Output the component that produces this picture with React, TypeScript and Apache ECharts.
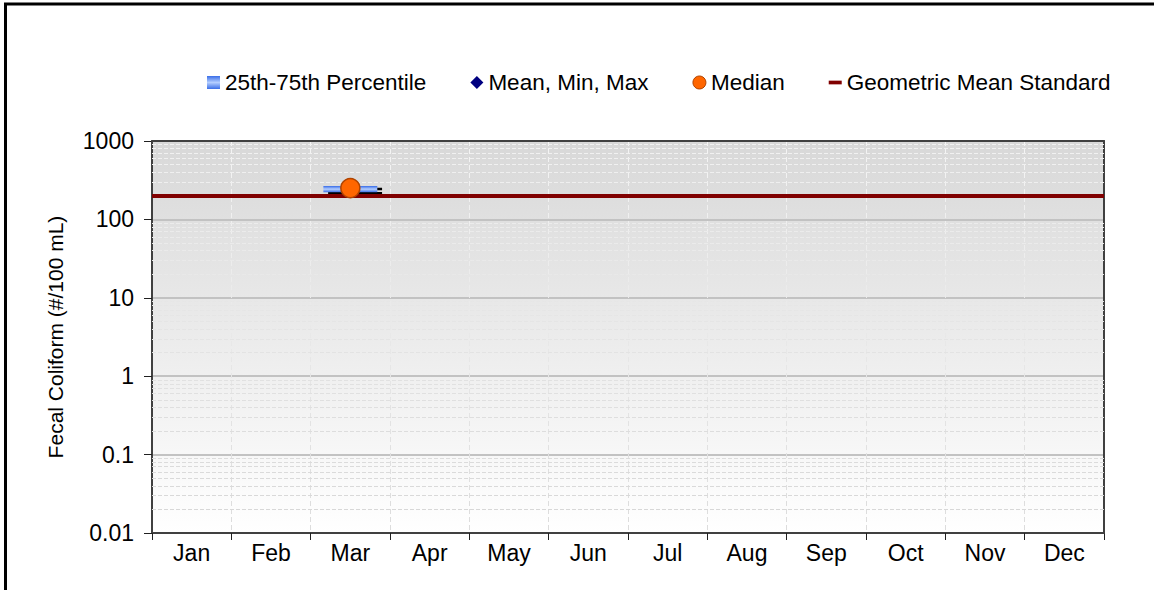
import React, { useEffect, useRef } from "react";
import * as echarts from "echarts";

const MONTHS = ["Jan", "Feb", "Mar", "Apr", "May", "Jun", "Jul", "Aug", "Sep", "Oct", "Nov", "Dec"];
const Q25 = [null, null, 222, null, null, null, null, null, null, null, null, null];
const Q75 = [null, null, 266, null, null, null, null, null, null, null, null, null];
const MEDIAN = [null, null, 251, null, null, null, null, null, null, null, null, null];
const MEAN = [null, null, 238, null, null, null, null, null, null, null, null, null];
const MIN = [null, null, 215, null, null, null, null, null, null, null, null, null];
const MAX = [null, null, 245, null, null, null, null, null, null, null, null, null];
const GEO_STANDARD = 200;
const Y_MIN = 0.01;
const Y_MAX = 1000;
const MINOR_STEPS = [2, 3, 4, 5, 6, 7, 8, 9];

const FONT = "'Liberation Sans', Arial, sans-serif";
const AXIS_FS = 23;
const LEGEND_FS = 22.5;
const TITLE_FS = 21;

export default function App() {
  const ref = useRef<HTMLDivElement>(null);
  useEffect(() => {
    if (!ref.current) return;
    const chart = echarts.init(ref.current, null, { renderer: "svg" });

    const minorVals: number[] = [];
    for (let d = Y_MIN; d < Y_MAX * 0.99; d *= 10) {
      MINOR_STEPS.forEach((m) => minorVals.push(parseFloat((d * m).toPrecision(3))));
    }

    const gridTop = 141;
    const gridBottom = 533;
    const lineGrad = (top: string, bottom: string) => ({
      type: "linear", x: 0, y: gridTop, x2: 0, y2: gridBottom, global: true,
      colorStops: [{ offset: 0, color: top }, { offset: 1, color: bottom }],
    });

    const boxGrad = {
      type: "linear", x: 0, y: 0, x2: 0, y2: 1,
      colorStops: [
        { offset: 0, color: "#3a6ee8" },
        { offset: 0.5, color: "#b4ceff" },
        { offset: 1, color: "#3a6ee8" },
      ],
    };

    const boxData: any[] = [];
    const whiskerData: any[] = [];
    const medianData: any[] = [];
    MONTHS.forEach((_, i) => {
      if (Q25[i] != null && Q75[i] != null) boxData.push([i, Q25[i], Q75[i]]);
      if (MEAN[i] != null) whiskerData.push([i, MEAN[i], MIN[i], MAX[i]]);
      if (MEDIAN[i] != null) medianData.push([i, MEDIAN[i]]);
    });

    const frameLine = { show: true, lineStyle: { color: "#404040", width: 2 } };

    const option: any = {
      animation: false,
      textStyle: { fontFamily: FONT },
      graphic: [
        {
          type: "rect",
          shape: { x: 5.5, y: 4, width: 1300, height: 700 },
          style: { fill: "none", stroke: "#000", lineWidth: 3 },
          silent: true,
        },
      ],
      legend: {
        left: 202,
        top: 66,
        itemWidth: 13,
        itemHeight: 13,
        itemGap: 44,
        textStyle: { fontFamily: FONT, fontSize: LEGEND_FS, color: "#000" },
        data: [
          { name: "25th-75th Percentile", icon: "rect", itemStyle: { color: boxGrad } },
          { name: "Mean, Min, Max", icon: "diamond", itemStyle: { color: "#000080" } },
          { name: "Median", icon: "circle", itemStyle: { color: "#ff6600", borderColor: "#b04400", borderWidth: 1, opacity: 1 } },
          { name: "Geometric Mean Standard", icon: "path://M0,0 L14,0 L14,4 L0,4 Z", itemStyle: { color: "#800000" } },
        ],
      },
      grid: {
        left: 152,
        right: 50,
        top: gridTop,
        bottom: 590 - gridBottom,
        show: true,
        borderWidth: 0,
        backgroundColor: {
          type: "linear", x: 0, y: 0, x2: 0, y2: 1,
          colorStops: [{ offset: 0, color: "#d8d8d8" }, { offset: 1, color: "#ffffff" }],
        },
      },
      xAxis: [
        {
          type: "category",
          data: MONTHS,
          boundaryGap: true,
          axisLine: { lineStyle: { color: "#404040", width: 2 } },
          axisTick: { show: true, length: 7, lineStyle: { color: "#202020", width: 1 } },
          axisLabel: { fontSize: AXIS_FS, color: "#000", margin: 8, fontFamily: FONT },
          splitLine: {
            show: true,
            lineStyle: { color: lineGrad("#f4f4f4", "#dcdcdc"), width: 1, type: [5, 3] },
          },
        },
        {
          type: "category",
          data: MONTHS,
          position: "top",
          z: 2,
          axisLine: frameLine,
          axisTick: { show: false },
          axisLabel: { show: false },
          splitLine: { show: false },
        },
      ],
      yAxis: [
        {
          type: "log",
          logBase: 10,
          min: Y_MIN,
          max: Y_MAX,
          name: "Fecal Coliform (#/100 mL)",
          nameLocation: "middle",
          nameGap: 86,
          nameTextStyle: { fontSize: TITLE_FS, color: "#000", fontFamily: FONT },
          axisLine: { show: true, lineStyle: { color: "#404040", width: 2 } },
          axisTick: { show: true, length: 8, lineStyle: { color: "#202020", width: 1 } },
          axisLabel: {
            fontSize: AXIS_FS, color: "#000", margin: 18, fontFamily: FONT,
            formatter: (v: number) => String(parseFloat(v.toPrecision(6))),
          },
          splitLine: { show: true, lineStyle: { color: "#c2c2c2", width: 2 } },
        },
        {
          type: "log",
          logBase: 10,
          min: Y_MIN,
          max: Y_MAX,
          position: "right",
          z: 2,
          axisLine: frameLine,
          axisTick: { show: false },
          axisLabel: { show: false },
          splitLine: { show: false },
        },
      ],
      series: [
        {
          name: "_minor",
          type: "line",
          data: [],
          z: 1,
          silent: true,
          markLine: {
            silent: true,
            symbol: ["none", "none"],
            label: { show: false },
            lineStyle: { color: lineGrad("#f2f2f2", "#d6d6d6"), width: 1, type: [4, 2] },
            data: minorVals.map((v) => ({ yAxis: v })),
          },
        },
        {
          name: "Geometric Mean Standard",
          type: "line",
          data: [],
          z: 3,
          itemStyle: { color: "#800000" },
          lineStyle: { color: "#800000", width: 4 },
          markLine: {
            silent: true,
            symbol: ["none", "none"],
            label: { show: false },
            lineStyle: { color: "#800000", width: 4, type: "solid" },
            data: [{ yAxis: GEO_STANDARD }],
          },
        },
        {
          name: "Mean, Min, Max",
          type: "custom",
          z: 4,
          itemStyle: { color: "#000080" },
          data: whiskerData,
          encode: { x: 0, y: [1, 2, 3] },
          renderItem: (params: any, api: any) => {
            const idx = api.value(0);
            const mean = api.value(1);
            const mn = api.value(2);
            const mx = api.value(3);
            const band = params.coordSys.width / MONTHS.length;
            const w = band * 0.68;
            const pMean = api.coord([idx, mean]);
            const pMin = api.coord([idx, mn]);
            const pMax = api.coord([idx, mx]);
            const cx = pMean[0] + band * 0.06;
            const s = 7;
            return {
              type: "group",
              children: [
                { type: "line", shape: { x1: cx, y1: pMin[1], x2: cx, y2: pMax[1] }, style: { stroke: "#000", lineWidth: 2 } },
                { type: "line", shape: { x1: cx - w / 2, y1: pMin[1], x2: cx + w / 2, y2: pMin[1] }, style: { stroke: "#000", lineWidth: 2.5 } },
                { type: "line", shape: { x1: cx - w / 2, y1: pMax[1], x2: cx + w / 2, y2: pMax[1] }, style: { stroke: "#000", lineWidth: 2.5 } },
                {
                  type: "polygon",
                  shape: { points: [[pMean[0], pMean[1] - s], [pMean[0] + s, pMean[1]], [pMean[0], pMean[1] + s], [pMean[0] - s, pMean[1]]] },
                  style: { fill: "#000080" },
                },
              ],
            };
          },
        },
        {
          name: "25th-75th Percentile",
          type: "custom",
          z: 5,
          itemStyle: { color: "#3a6ee8" },
          data: boxData,
          encode: { x: 0, y: [1, 2] },
          renderItem: (params: any, api: any) => {
            const idx = api.value(0);
            const lo = api.value(1);
            const hi = api.value(2);
            const band = params.coordSys.width / MONTHS.length;
            const w = band * 0.68;
            const pLo = api.coord([idx, lo]);
            const pHi = api.coord([idx, hi]);
            return {
              type: "rect",
              shape: { x: pLo[0] - w / 2, y: pHi[1], width: w, height: pLo[1] - pHi[1] },
              style: { fill: boxGrad },
            };
          },
        },
        {
          name: "Median",
          type: "scatter",
          z: 6,
          symbol: "circle",
          symbolSize: 19,
          itemStyle: { color: "#ff6600", borderColor: "#b04400", borderWidth: 1.5, opacity: 1 },
          data: medianData,
        },
      ],
    };

    chart.setOption(option);
    return () => chart.dispose();
  }, []);

  return (
    <div
      ref={ref}
      style={{ position: "absolute", left: 0, top: 0, width: 1154, height: 590, background: "#fff" }}
    />
  );
}
